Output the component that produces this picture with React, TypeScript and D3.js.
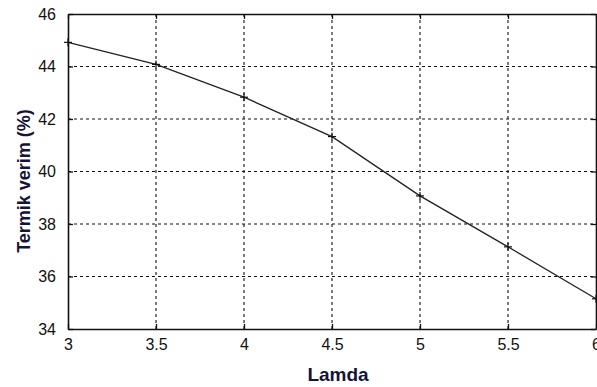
import React, { useEffect, useRef } from 'react';
import * as d3 from 'd3';

const lamda = [3, 3.5, 4, 4.5, 5, 5.5, 6];
const verim = [44.92, 44.08, 42.83, 41.33, 39.07, 37.13, 35.15];
const xTicks = [3, 3.5, 4, 4.5, 5, 5.5, 6];
const yTicks = [34, 36, 38, 40, 42, 44, 46];

const W = 597;
const H = 387;

const App = () => {
  const svgRef = useRef<SVGSVGElement | null>(null);

  useEffect(() => {
    const svg = d3.select(svgRef.current);
    svg.selectAll('*').remove();

    const margin = { top: 14, right: 1, bottom: 58, left: 68 };
    const innerW = W - margin.left - margin.right;
    const innerH = H - margin.top - margin.bottom;

    const x = d3.scaleLinear().domain([3, 6]).range([0, innerW]);
    const y = d3.scaleLinear().domain([34, 46]).range([innerH, 0]);

    const g = svg.append('g').attr('transform', `translate(${margin.left},${margin.top})`);

    // grid
    g.selectAll('.gx')
      .data(xTicks.slice(1, -1))
      .enter()
      .append('line')
      .attr('x1', d => x(d)).attr('x2', d => x(d))
      .attr('y1', 0).attr('y2', innerH)
      .attr('stroke', '#111').attr('stroke-width', 1.1)
      .attr('stroke-dasharray', '3,3');
    g.selectAll('.gy')
      .data(yTicks.slice(1, -1))
      .enter()
      .append('line')
      .attr('y1', d => y(d)).attr('y2', d => y(d))
      .attr('x1', 0).attr('x2', innerW)
      .attr('stroke', '#111').attr('stroke-width', 1.1)
      .attr('stroke-dasharray', '3,3');

    // axes (ticks inside)
    const xb = g.append('g').attr('transform', `translate(0,${innerH})`)
      .call(d3.axisBottom(x).tickValues(xTicks).tickSizeInner(-5).tickSizeOuter(0).tickPadding(10).tickFormat(d => String(d)));
    const xt = g.append('g')
      .call(d3.axisTop(x).tickValues(xTicks).tickSizeInner(-5).tickSizeOuter(0).tickFormat(() => ''));
    const yl = g.append('g')
      .call(d3.axisLeft(y).tickValues(yTicks).tickSizeInner(-5).tickSizeOuter(0).tickPadding(12).tickFormat(d => String(d)));
    const yr = g.append('g').attr('transform', `translate(${innerW},0)`)
      .call(d3.axisRight(y).tickValues(yTicks).tickSizeInner(-5).tickSizeOuter(0).tickFormat(() => ''));

    [xb, xt, yl, yr].forEach(a => {
      a.select('.domain').attr('stroke', '#111').attr('stroke-width', 1.6);
      a.selectAll('.tick line').attr('stroke', '#111').attr('stroke-width', 1.3);
      a.selectAll('text')
        .attr('font-family', 'Liberation Sans, Arial, sans-serif')
        .attr('font-size', 16)
        .attr('fill', '#111');
    });

    // line
    const line = d3.line<number>()
      .x((_, i) => x(lamda[i]))
      .y(d => y(d));
    g.append('path')
      .datum(verim)
      .attr('d', line)
      .attr('fill', 'none')
      .attr('stroke', '#222')
      .attr('stroke-width', 1.3);

    // + markers
    const s = 4;
    const pts = g.selectAll('.pt').data(verim).enter().append('g')
      .attr('transform', (d, i) => `translate(${x(lamda[i])},${y(d)})`);
    pts.append('line').attr('x1', -s).attr('x2', s).attr('y1', 0).attr('y2', 0).attr('stroke', '#111').attr('stroke-width', 1.2);
    pts.append('line').attr('y1', -s).attr('y2', s).attr('x1', 0).attr('x2', 0).attr('stroke', '#111').attr('stroke-width', 1.2);

    // axis titles
    svg.append('text')
      .attr('x', 338)
      .attr('y', 381)
      .attr('text-anchor', 'middle')
      .attr('font-family', 'Liberation Sans, Arial, sans-serif')
      .attr('font-weight', 'bold')
      .attr('font-size', 19)
      .attr('fill', '#141438')
      .text('Lamda');

    svg.append('text')
      .attr('transform', `translate(30,181) rotate(-90)`)
      .attr('text-anchor', 'middle')
      .attr('font-family', 'Liberation Sans, Arial, sans-serif')
      .attr('font-weight', 'bold')
      .attr('font-size', 18)
      .attr('fill', '#141438')
      .text('Termik verim (%)');
  }, []);

  return (
    <div style={{ position: 'absolute', left: 0, top: 0, width: W, height: H, background: '#fff' }}>
      <svg ref={svgRef} width={W} height={H} style={{ display: 'block' }}></svg>
    </div>
  );
};

export default App;
